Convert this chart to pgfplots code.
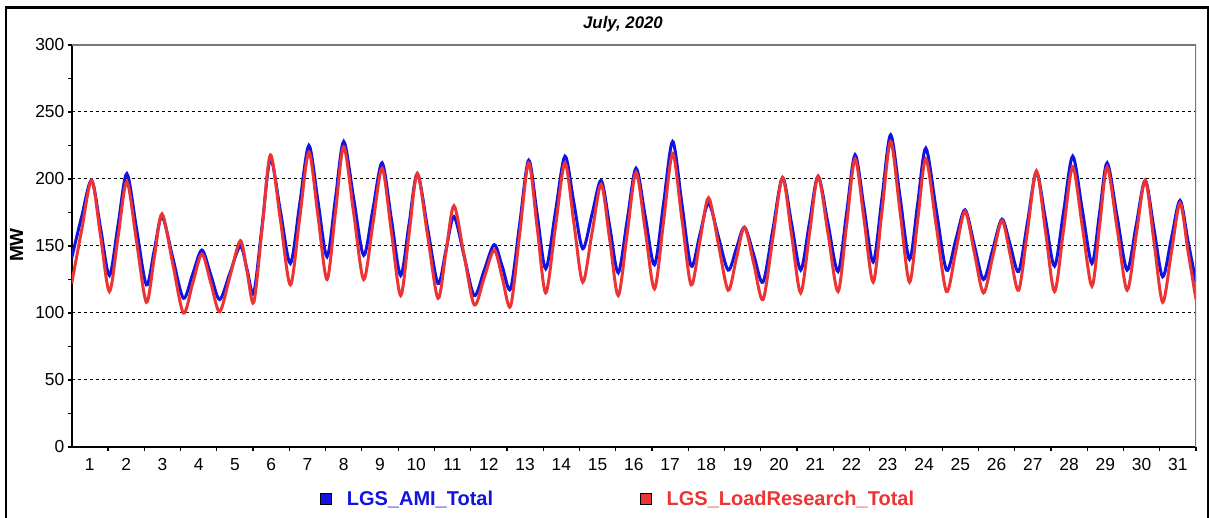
\documentclass[border=0pt]{standalone}
\usepackage{pgfplots}
\pgfplotsset{compat=1.18}
\usepackage{fontspec}
\setmainfont{Liberation Sans}
\definecolor{AMIblue}{RGB}{18,18,225}
\definecolor{LRred}{RGB}{236,52,52}
\definecolor{framegray}{RGB}{120,120,120}
\begin{document}
\begin{tikzpicture}
\useasboundingbox (0,0) rectangle (604.5pt,259pt);
\draw[black, line width=1.2pt] (3.1pt,0pt) -- (3.1pt,255.3pt) -- (603.85pt,255.3pt) -- (603.85pt,0pt);
\node[font=\bfseries\itshape\fontsize{8.4}{10}\selectfont, anchor=center] at (311.5pt,247pt) {July, 2020};
\begin{axis}[
  at={(35.85pt,35.5pt)}, anchor=south west,
  width=562.15pt, height=201pt, scale only axis,
  xmin=0, xmax=31, ymin=0, ymax=300,
  axis x line*=bottom, axis y line*=left,
  axis line style={black, line width=0.8pt},
  xtick={0.5,1.5,...,30.5},
  xticklabels={1,2,3,4,5,6,7,8,9,10,11,12,13,14,15,16,17,18,19,20,21,22,23,24,25,26,27,28,29,30,31},
  minor xtick={1,2,...,31},
  major x tick style={draw=none},
  ytick={0,50,...,300},
  minor ytick={25,75,...,275},
  tick align=outside,
  major tick length=2pt, minor tick length=2pt,
  tick style={black, line width=0.6pt},
  ymajorgrids,
  grid style={black, line width=0.5pt, dash pattern=on 1.5pt off 1.5pt},
  ticklabel style={font=\fontsize{8.7}{10}\selectfont},
  yticklabel style={inner xsep=1.5pt},
  /pgf/number format/assume math mode=true,
  ylabel={MW},
  ylabel style={at={(-0.0491,0.5025)}, anchor=center, font=\bfseries\fontsize{9.5}{11}\selectfont},
  legend columns=2,
  legend style={at={(0.2208,-0.130)}, anchor=west, draw=none, fill=none, inner sep=0pt,
    font=\bfseries\fontsize{10}{11}\selectfont,
    /tikz/every even column/.append style={column sep=71.5pt}},
  clip=true,
]
\addplot[AMIblue, line width=1.5pt, smooth,
  legend image code/.code={\draw[fill=AMIblue, draw=black, line width=0.5pt] (0pt,-2.8pt) rectangle (5.4pt,2.8pt); \path[draw=none, fill=none] (0pt,0pt) -- (11pt,0pt);}]
table {
t v
0.00 141
0.275 172
0.55 199
0.795 163.5
1.04 128
1.28 166
1.52 204
1.79 162.5
2.06 121
2.275 146.5
2.49 172
2.785 141.5
3.08 111
3.335 129
3.59 147
3.835 128.5
4.08 110
4.365 130
4.65 150
4.835 132.5
5.02 115
5.25 165
5.48 215
5.755 176
6.03 137
6.285 181
6.54 225
6.79 183.5
7.04 142
7.27 185
7.50 228
7.775 185.5
8.05 143
8.305 177.5
8.56 212
8.815 170
9.07 128
9.30 166
9.53 204
9.815 163
10.10 122
10.32 147
10.54 172
10.82 142.5
11.10 113
11.375 132
11.65 151
11.875 134.5
12.10 118
12.35 166
12.60 214
12.835 173.5
13.07 133
13.335 175
13.60 217
13.845 182.5
14.09 148
14.345 173.5
14.60 199
14.835 164.5
15.07 130
15.315 169
15.56 208
15.815 172
16.07 136
16.32 182
16.57 228
16.825 181.5
17.08 135
17.32 158.5
17.56 182
17.83 157
18.10 132
18.325 148
18.55 164
18.805 143.5
19.06 123
19.33 162
19.60 201
19.85 166.5
20.10 132
20.34 167
20.58 202
20.855 166.5
21.13 131
21.365 174.5
21.60 218
21.85 178
22.10 138
22.34 185.5
22.58 233
22.84 186.5
23.10 140
23.325 181.5
23.55 223
23.835 177.5
24.12 132
24.375 154.5
24.63 177
24.885 151
25.14 125
25.395 147.5
25.65 170
25.88 150.5
26.11 131
26.355 168
26.60 205
26.85 170
27.10 135
27.35 176
27.60 217
27.865 177
28.13 137
28.34 174.5
28.55 212
28.825 172
29.10 132
29.35 165.5
29.60 199
29.84 163
30.08 127
30.32 155.5
30.56 184
30.78 153.5
31.00 123
};
\addlegendentry{\textcolor{AMIblue}{LGS\_AMI\_Total}}
\addplot[LRred, line width=1.5pt, smooth,
  legend image code/.code={\draw[fill=LRred, draw=black, line width=0.5pt] (0pt,-2.8pt) rectangle (5.4pt,2.8pt); \path[draw=none, fill=none] (0pt,0pt) -- (11pt,0pt);}]
table {
t v
0.00 122
0.275 162
0.55 199
0.795 157.5
1.04 116
1.28 157
1.52 198
1.79 153
2.06 108
2.275 141
2.49 174
2.785 137
3.08 100
3.335 122
3.59 144
3.835 122.5
4.08 101
4.365 127.5
4.65 154
4.835 131
5.02 108
5.25 163
5.48 218
5.755 169.5
6.03 121
6.285 170.5
6.54 220
6.79 172.5
7.04 125
7.27 174.5
7.50 224
7.775 174.5
8.05 125
8.305 166.5
8.56 208
8.815 160.5
9.07 113
9.30 158.5
9.53 204
9.815 157.5
10.10 111
10.32 145.5
10.54 180
10.82 143
11.10 106
11.375 126.5
11.65 147
11.875 126
12.10 105
12.35 158.5
12.60 212
12.835 163.5
13.07 115
13.335 163.5
13.60 212
13.845 167.5
14.09 123
14.345 159.5
14.60 196
14.835 154.5
15.07 113
15.315 159
15.56 205
15.815 161.5
16.07 118
16.32 168.5
16.57 219
16.825 170
17.08 121
17.32 153.5
17.56 186
17.83 151.5
18.10 117
18.325 140.5
18.55 164
18.805 137
19.06 110
19.33 155.5
19.60 201
19.85 158
20.10 115
20.34 158.5
20.58 202
20.855 159
21.13 116
21.365 165.5
21.60 215
21.85 169
22.10 123
22.34 175.5
22.58 228
22.84 175.5
23.10 123
23.325 169
23.55 215
23.835 165.5
24.12 116
24.375 146
24.63 176
24.885 145.5
25.14 115
25.395 142
25.65 169
25.88 143
26.11 117
26.355 161.5
26.60 206
26.85 161
27.10 116
27.35 162.5
27.60 209
27.865 164.5
28.13 120
28.34 164.5
28.55 209
28.825 163
29.10 117
29.35 158
29.60 199
29.84 153.5
30.08 108
30.32 145
30.56 182
30.78 146
31.00 110
};
\addlegendentry{\textcolor{LRred}{LGS\_LoadResearch\_Total}}
\draw[framegray, line width=0.7pt] (rel axis cs:0,1) -- (rel axis cs:1,1) -- (rel axis cs:1,0);
\end{axis}
\end{tikzpicture}
\end{document}
